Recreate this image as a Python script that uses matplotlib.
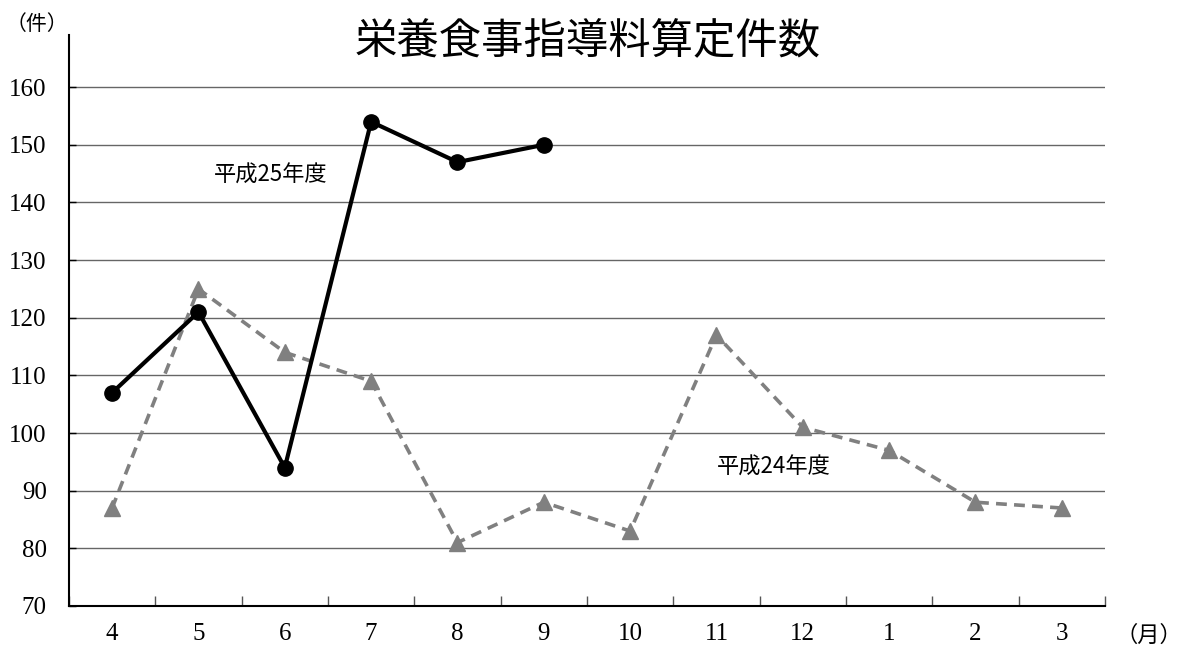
import matplotlib
matplotlib.use("Agg")
import matplotlib.pyplot as plt

months = ["4", "5", "6", "7", "8", "9", "10", "11", "12", "1", "2", "3"]
h25 = [107, 121, 94, 154, 147, 150]
h24 = [87, 125, 114, 109, 81, 88, 83, 117, 101, 97, 88, 87]
yticks = [70, 80, 90, 100, 110, 120, 130, 140, 150, 160]

plt.rcParams["font.family"] = ["Liberation Serif", "Noto Sans CJK JP", "DejaVu Sans"]
cjk = ["Noto Sans CJK JP", "DejaVu Sans"]

fig = plt.figure(figsize=(11.83, 6.5), dpi=100)
ax = fig.add_axes([0.0583, 0.0677, 0.8757, 0.878])

x = list(range(len(months)))
ax.plot(x, h24, color="#808080", lw=2.6, ls=(0, (3, 2)), marker="^", ms=12,
        markeredgecolor="#808080", markerfacecolor="#808080", zorder=3)
ax.plot(x[:len(h25)], h25, color="black", lw=3, marker="o", ms=11, zorder=4)

ax.set_xlim(-0.5, 11.5)
ax.set_ylim(70, 169)
ax.set_yticks(yticks)
ax.set_yticklabels([str(v) for v in yticks])
for v in yticks[1:]:
    ax.axhline(v, color="#666666", lw=1.0, zorder=1)

ax.set_xticks(x)
ax.set_xticklabels(months)
ax.set_xticks([i + 0.5 for i in range(-1, 12)], minor=True)
ax.tick_params(axis="both", labelsize=18)
ax.tick_params(axis="x", which="major", length=0, pad=12)
ax.tick_params(axis="x", which="minor", direction="in", length=7, width=1, color="#555555")
ax.tick_params(axis="y", direction="in", length=5, width=1, pad=16)

for s in ["top", "right"]:
    ax.spines[s].set_visible(False)
for s in ["left", "bottom"]:
    ax.spines[s].set_linewidth(1.5)
    ax.spines[s].set_color("black")

ax.text(1.84, 144.7, "平成25年度", family=cjk, fontsize=16, ha="center", va="center")
ax.text(7.67, 94.1, "平成24年度", family=cjk, fontsize=16, ha="center", va="center")

fig.text(0.497, 0.935, "栄養食事指導料算定件数", family=cjk, fontsize=30.5, ha="center", va="center")
fig.text(0.031, 0.963, "（件）", family=cjk, fontsize=15, ha="center", va="center")
fig.text(0.971, 0.023, "（月）", family=cjk, fontsize=16, ha="center", va="center")

fig.savefig("out.png", dpi=100)
